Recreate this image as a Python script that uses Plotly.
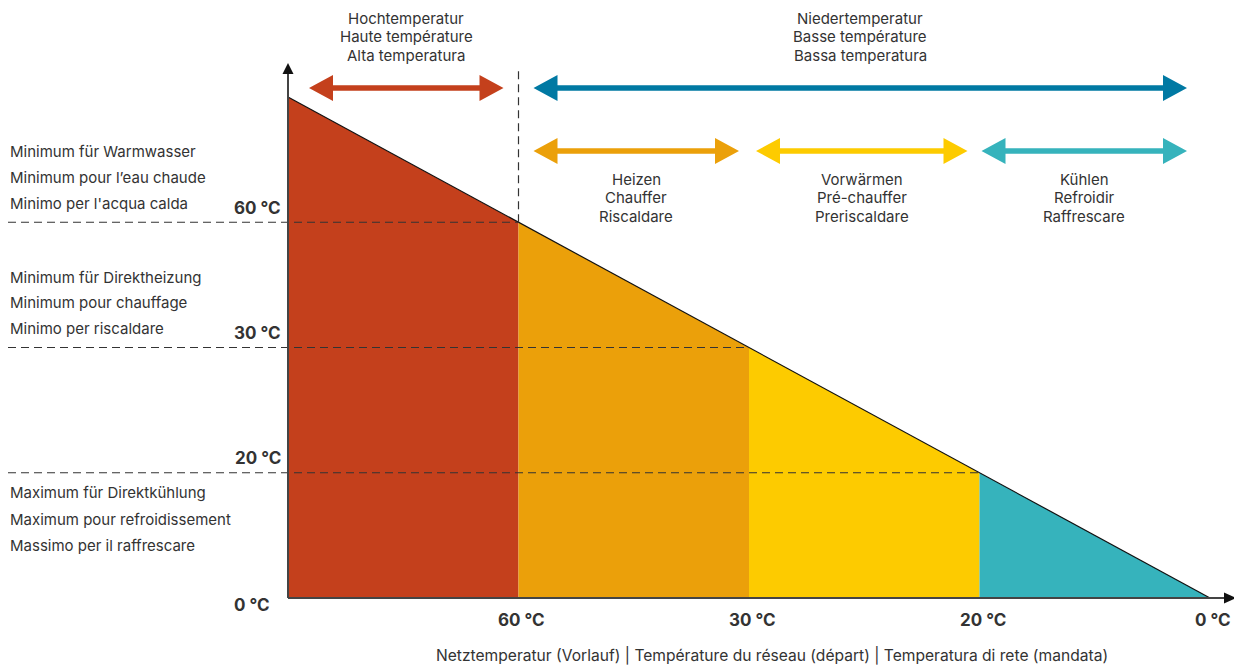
import plotly.graph_objects as go

# ---------------- data ----------------
boundary_pos = [0, 1, 2, 3, 4]                 # x positions of band boundaries
line_level = [4, 3, 2, 1, 0]                   # height of the sloped line at each boundary
x_tick_labels = ["60 °C", "30 °C", "20 °C", "0 °C"]      # at boundary_pos[1:]
y_tick_labels = ["0 °C", "20 °C", "30 °C", "60 °C"]      # at levels 0..3
segment_colors = ["#C4401C", "#EBA00A", "#FDCB00", "#36B3BC"]

band_titles = [
    ["Hochtemperatur", "Haute température", "Alta temperatura"],
    ["Niedertemperatur", "Basse température", "Bassa temperatura"],
]
band_ranges = [(0, 1), (1, 4)]
band_colors = ["#C4401C", "#0079A3"]

use_titles = [
    ["Heizen", "Chauffer", "Riscaldare"],
    ["Vorwärmen", "Pré-chauffer", "Preriscaldare"],
    ["Kühlen", "Refroidir", "Raffrescare"],
]
use_ranges = [(1, 2), (2, 3), (3, 4)]
use_colors = ["#EBA00A", "#FDCB00", "#36B3BC"]

threshold_levels = [3, 2, 1]
threshold_texts = [
    ["Minimum für Warmwasser", "Minimum pour l’eau chaude", "Minimo per l'acqua calda"],
    ["Minimum für Direktheizung", "Minimum pour chauffage", "Minimo per riscaldare"],
    ["Maximum für Direktkühlung", "Maximum pour refroidissement", "Massimo per il raffrescare"],
]
axis_title = "Netztemperatur (Vorlauf) | Température du réseau (départ) | Temperatura di rete (mandata)"

# ---------------- frame (pixel mapping) ----------------
W, H = 1234, 665
X0_PX, X4_PX = 288, 1210
Y0_PX, Y4_PX = 598, 97
sx = (X4_PX - X0_PX) / 4.0
sy = (Y0_PX - Y4_PX) / 4.0


def px_x(p):
    return (p - X0_PX) / sx


def px_y(p):
    return (Y0_PX - p) / sy


def dx(p):
    return p / sx


def dy(p):
    return p / sy


TEXT = "#333333"
FONT = "Inter"

fig = go.Figure()

# colored bands under the sloped line
for i, col in enumerate(segment_colors):
    xa, xb = boundary_pos[i], boundary_pos[i + 1]
    ya, yb = line_level[i], line_level[i + 1]
    fig.add_trace(go.Scatter(
        x=[xa, xa, xb, xb, xa], y=[0, ya, yb, 0, 0],
        mode="lines", fill="toself", fillcolor=col,
        line=dict(width=0, color=col), hoverinfo="skip", showlegend=False))

# sloped line
fig.add_trace(go.Scatter(x=boundary_pos, y=line_level, mode="lines",
                         line=dict(color="#111111", width=1.2),
                         hoverinfo="skip", showlegend=False))

# dashed threshold lines
for lvl in threshold_levels:
    xb = boundary_pos[line_level.index(lvl)]
    fig.add_trace(go.Scatter(x=[px_x(8), xb], y=[lvl, lvl], mode="lines",
                             line=dict(color="#333333", width=1.2, dash="8px,5px"),
                             hoverinfo="skip", showlegend=False))
# vertical dashed separator between high / low temperature
fig.add_trace(go.Scatter(x=[1, 1], y=[line_level[1], px_y(70)], mode="lines",
                         line=dict(color="#333333", width=1.2, dash="8px,5px"),
                         hoverinfo="skip", showlegend=False))

# axes with arrow heads
AX = "#444444"
fig.add_trace(go.Scatter(x=[0, 0], y=[0, px_y(72)], mode="lines",
                         line=dict(color=AX, width=2), hoverinfo="skip", showlegend=False))
fig.add_trace(go.Scatter(x=[0, px_x(1226)], y=[0, 0], mode="lines",
                         line=dict(color=AX, width=2), hoverinfo="skip", showlegend=False))
fig.add_trace(go.Scatter(x=[-dx(5.5), dx(5.5), 0, -dx(5.5)],
                         y=[px_y(74), px_y(74), px_y(63), px_y(74)],
                         mode="lines", fill="toself", fillcolor="#111111",
                         line=dict(width=0), hoverinfo="skip", showlegend=False))
fig.add_trace(go.Scatter(x=[px_x(1224), px_x(1224), px_x(1236), px_x(1224)],
                         y=[dy(5.5), -dy(5.5), 0, dy(5.5)],
                         mode="lines", fill="toself", fillcolor="#111111",
                         line=dict(width=0), hoverinfo="skip", showlegend=False))


# double-headed thick arrows
HEAD_L, HEAD_H, SHAFT_H = 24, 13, 2.8


def add_arrow(x0, x1, ypx, col):
    y = px_y(ypx)
    hl, hh, sh = dx(HEAD_L), dy(HEAD_H), dy(SHAFT_H)
    xs = [x0, x0 + hl, x0 + hl, x1 - hl, x1 - hl, x1, x1 - hl, x1 - hl, x0 + hl, x0 + hl, x0]
    ys = [y, y + hh, y + sh, y + sh, y + hh, y, y - hh, y - sh, y - sh, y - hh, y]
    fig.add_trace(go.Scatter(x=xs, y=ys, mode="lines", fill="toself", fillcolor=col,
                             line=dict(width=0, color=col), hoverinfo="skip",
                             showlegend=False))
    return (x0 + x1) / 2


annotations = []


def txt(x, y, s, size=15, xanchor="center", yanchor="middle", xshift=0, yshift=0,
        bold=False, xref="x", yref="y"):
    annotations.append(dict(
        x=x, y=y, xref=xref, yref=yref, text=s, showarrow=False,
        xanchor=xanchor, yanchor=yanchor, xshift=xshift, yshift=yshift,
        font=dict(family=FONT, size=size, color=TEXT,
                  weight=700 if bold else 400)))


band_insets = [(21, 15), (15, 23)]
for (a, b), col, ins, lines in zip(band_ranges, band_colors, band_insets, band_titles):
    cx = add_arrow(a + dx(ins[0]), b - dx(ins[1]), 88, col)
    for k, s in enumerate(lines):
        txt(cx, px_y(88), s, yshift=70 - 18.5 * k)

use_insets = [(15, 10), (7, 12), (2, 23)]
for (a, b), col, ins, lines in zip(use_ranges, use_colors, use_insets, use_titles):
    cx = add_arrow(a + dx(ins[0]), b - dx(ins[1]), 151, col)
    for k, s in enumerate(lines):
        txt(cx, px_y(151), s, yshift=-(28 + 18.5 * k))

# threshold descriptions
for lvl, lines in zip(threshold_levels, threshold_texts):
    below = lvl == 1
    for k, s in enumerate(lines):
        off = (-(20 + 26.5 * k)) if below else (70.5 - 25.7 * k)
        txt(px_x(8), lvl, s, xanchor="left", yshift=off)

# y tick labels
for lvl, lab in enumerate(y_tick_labels):
    if lvl == 0:
        txt(0, 0, lab, size=17, bold=True, xanchor="right", xshift=-16, yshift=-7)
    else:
        txt(0, lvl, lab, size=17, bold=True, xanchor="right", xshift=-5, yshift=14.5)

# x tick labels
for pos, lab in zip(boundary_pos[1:], x_tick_labels):
    txt(pos, 0, lab, size=17, bold=True, xshift=3, yshift=-22)

# axis title
txt(px_x(772), px_y(655), axis_title, size=15.6)

fig.update_layout(
    width=W, height=H,
    margin=dict(l=0, r=0, t=0, b=0),
    paper_bgcolor="white", plot_bgcolor="white",
    xaxis=dict(range=[-X0_PX / sx, (W - X0_PX) / sx], visible=False, fixedrange=True),
    yaxis=dict(range=[-(H - Y0_PX) / sy, Y0_PX / sy], visible=False, fixedrange=True),
    annotations=annotations,
    showlegend=False,
)

fig.write_html("out.html", config={"displayModeBar": False},
               post_script="document.body.style.margin='0';document.body.style.overflow='hidden';")
